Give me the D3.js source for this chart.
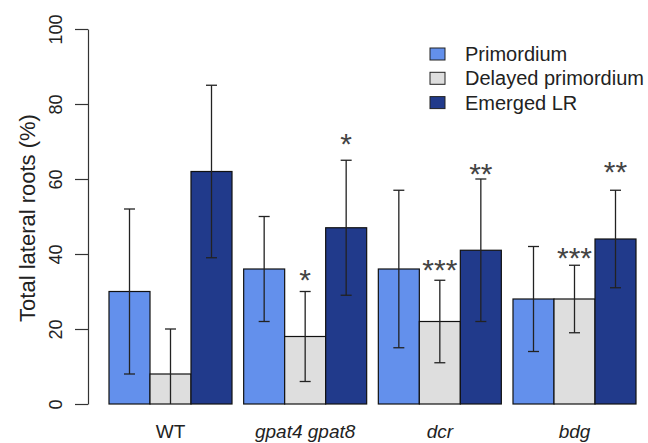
<!DOCTYPE html>
<html>
<head>
<meta charset="utf-8">
<script src="https://cdn.jsdelivr.net/npm/d3@7"></script>
<style>
  html, body { margin: 0; padding: 0; background: #fff; }
  svg { display: block; font-family: "Liberation Sans", Arial, Helvetica, sans-serif; }
</style>
</head>
<body>
<svg id="chart" width="648" height="443"></svg>
<script>
// Genotypes along the x axis
const genotypes = ["WT", "gpat4 gpat8", "dcr", "bdg"];
const italicLabel = [false, true, true, true];

// Lateral root stages (legend order)
const stages = ["Primordium", "Delayed primordium", "Emerged LR"];
const stageColors = ["#6390ec", "#dedede", "#213a8b"];

// Mean percentage per genotype, one array per stage
const primordium        = [30, 36, 36, 28];
const delayedPrimordium = [8, 18, 22, 28];
const emergedLR         = [62, 47, 41, 44];

// Error bar limits (lower / upper) per stage
const primordiumLow  = [8, 22, 15, 14];
const primordiumHigh = [52, 50, 57, 42];
const delayedLow     = [0, 6, 11, 19];
const delayedHigh    = [20, 30, 33, 37];
const emergedLow     = [39, 29, 22, 31];
const emergedHigh    = [85, 65, 60, 57];

// Significance marks: genotype index, stage index, label, vertical position (%)
const sigGenotype = [1, 1, 2, 2, 3, 3];
const sigStage    = [1, 2, 1, 2, 1, 2];
const sigLabel    = ["*", "*", "***", "**", "***", "**"];
const sigPos      = [35.0, 71.2, 37.6, 63.2, 40.8, 63.7];

// Y axis ticks
const yTicks = [0, 20, 40, 60, 80, 100];

const means = [primordium, delayedPrimordium, emergedLR];
const lows  = [primordiumLow, delayedLow, emergedLow];
const highs = [primordiumHigh, delayedHigh, emergedHigh];

const svg = d3.select("#chart");

const x0 = d3.scaleBand().domain(d3.range(genotypes.length))
  .range([109, 636]).paddingInner(0.0866).paddingOuter(0);
const x1 = d3.scaleBand().domain(d3.range(stages.length))
  .range([0, x0.bandwidth()]).padding(0);
const y = d3.scaleLinear().domain([0, 100]).range([404, 29]);

// Bars
const bars = [];
genotypes.forEach((g, gi) => {
  stages.forEach((s, si) => {
    bars.push({ gi, si, v: means[si][gi], lo: lows[si][gi], hi: highs[si][gi] });
  });
});

svg.append("g").selectAll("rect").data(bars).join("rect")
  .attr("x", d => x0(d.gi) + x1(d.si))
  .attr("y", d => y(d.v))
  .attr("width", x1.bandwidth())
  .attr("height", d => y(0) - y(d.v))
  .attr("fill", d => stageColors[d.si])
  .attr("stroke", "#111")
  .attr("stroke-width", 1.2);

// Error bars
const eb = svg.append("g").attr("stroke", "#222").attr("stroke-width", 1.3).attr("fill", "none");
const capHalf = 5.5;
bars.forEach(d => {
  const cx = x0(d.gi) + x1(d.si) + x1.bandwidth() / 2;
  eb.append("line").attr("x1", cx).attr("x2", cx).attr("y1", y(d.lo)).attr("y2", y(d.hi));
  eb.append("line").attr("x1", cx - capHalf).attr("x2", cx + capHalf).attr("y1", y(d.hi)).attr("y2", y(d.hi));
  if (d.lo > 0) {
    eb.append("line").attr("x1", cx - capHalf).attr("x2", cx + capHalf).attr("y1", y(d.lo)).attr("y2", y(d.lo));
  }
});

// Significance asterisks
const starSize = 30;
sigLabel.forEach((lab, i) => {
  const cx = x0(sigGenotype[i]) + x1(sigStage[i]) + x1.bandwidth() / 2;
  svg.append("text")
    .attr("x", cx)
    .attr("y", y(sigPos[i]) + starSize * 0.56)
    .attr("text-anchor", "middle")
    .attr("font-size", starSize)
    .attr("fill", "#444")
    .text(lab);
});

// Y axis
const yAxis = d3.axisLeft(y).tickValues(yTicks).tickSize(13).tickSizeOuter(0).tickPadding(0);
const ga = svg.append("g").attr("transform", "translate(88,0)").call(yAxis);
ga.select(".domain").attr("stroke", "#333").attr("stroke-width", 1.2);
ga.selectAll(".tick line").attr("stroke", "#333").attr("stroke-width", 1.2);
ga.selectAll(".tick text")
  .attr("font-size", 18)
  .attr("fill", "#222")
  .attr("text-anchor", "middle")
  .attr("x", 0)
  .attr("dy", 0)
  .attr("transform", "translate(-20,0) rotate(-90)")
  .attr("y", -6);

// Y axis title
svg.append("text")
  .attr("transform", "translate(35,218) rotate(-90)")
  .attr("text-anchor", "middle")
  .attr("font-size", 22)
  .attr("fill", "#222")
  .text("Total lateral roots (%)");

// Genotype labels
svg.append("g").selectAll("text").data(genotypes).join("text")
  .attr("x", (d, i) => x0(i) + x0.bandwidth() / 2)
  .attr("y", 438)
  .attr("text-anchor", "middle")
  .attr("font-size", 19)
  .attr("font-style", (d, i) => italicLabel[i] ? "italic" : "normal")
  .attr("fill", "#222")
  .text(d => d);

// Legend
const lg = svg.append("g").attr("transform", "translate(430,0)");
stages.forEach((s, i) => {
  const rowY = 54 + i * 24.3;
  lg.append("rect")
    .attr("x", 0).attr("y", rowY - 6)
    .attr("width", 15).attr("height", 12)
    .attr("fill", stageColors[i])
    .attr("stroke", "#222").attr("stroke-width", 1);
  lg.append("text")
    .attr("x", 35).attr("y", rowY + 7)
    .attr("font-size", 20)
    .attr("fill", "#222")
    .text(s);
});
</script>
</body>
</html>
